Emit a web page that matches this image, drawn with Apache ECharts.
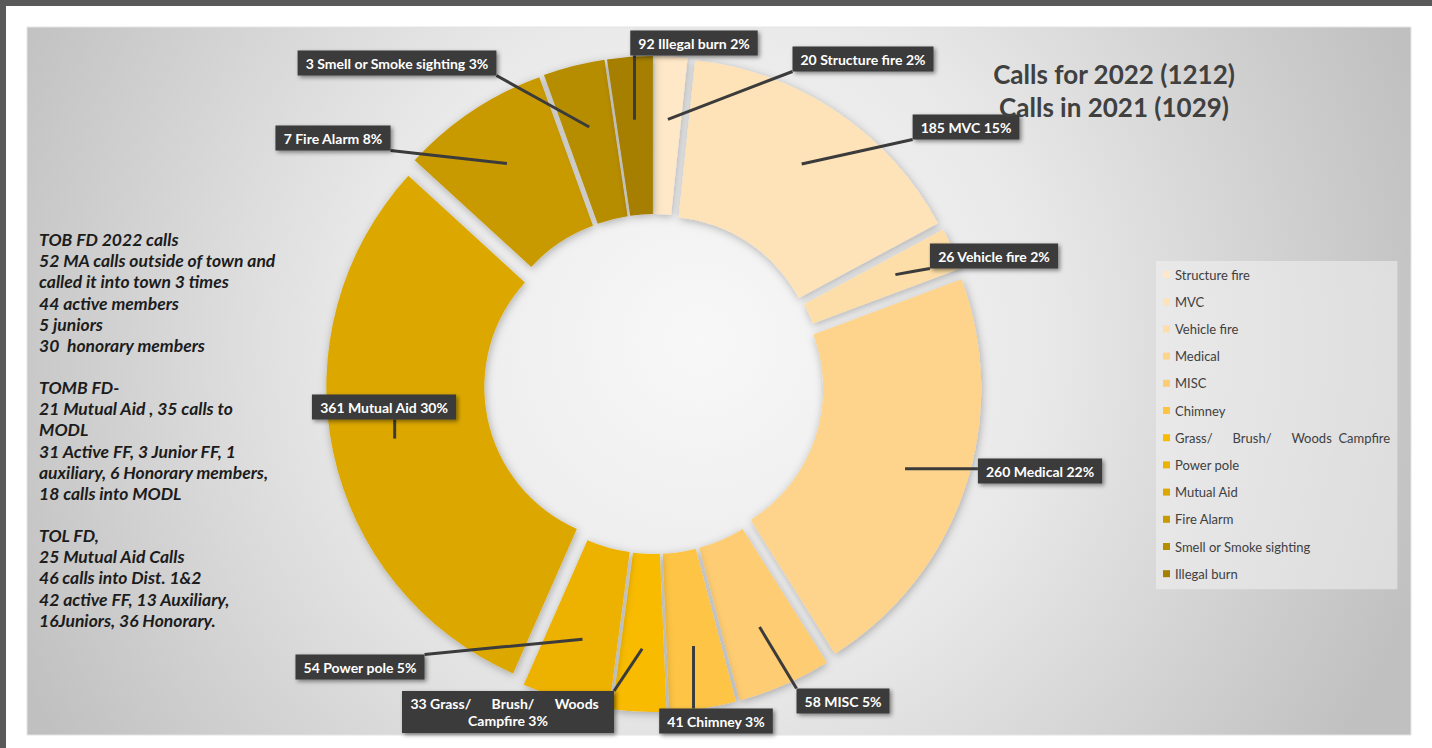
<!DOCTYPE html>
<html>
<head>
<meta charset="utf-8">
<script src="https://cdn.jsdelivr.net/npm/echarts@6/dist/echarts.min.js"></script>
<style>
html,body{margin:0;padding:0;background:#fff;}
#chart{width:1432px;height:748px;}
</style>
</head>
<body>
<div id="chart"></div>
<script>
// ---------- data ----------
const categories = [
  'Structure fire', 'MVC', 'Vehicle fire', 'Medical', 'MISC', 'Chimney',
  'Grass/      Brush/      Woods  Campfire', 'Power pole', 'Mutual Aid',
  'Fire Alarm', 'Smell or Smoke sighting', 'Illegal burn'
];
// slice sizes (as drawn)
const sliceValues = [20, 185, 26, 260, 58, 41, 33, 54, 361, 92, 38, 28];
// counts printed in the data labels
const labelCounts = [20, 185, 26, 260, 58, 41, 33, 54, 361, 7, 3, 92];
const titleLines = ['Calls for 2022 (1212)', 'Calls in 2021 (1029)'];
const noteLines = [
  'TOB FD 2022 calls',
  '52 MA calls outside of town and',
  'called it into town 3 times',
  '44 active members',
  '5 juniors',
  '30  honorary members',
  '',
  'TOMB FD-',
  '21 Mutual Aid , 35 calls to',
  'MODL',
  '31 Active FF, 3 Junior FF, 1',
  'auxiliary, 6 Honorary members,',
  '18 calls into MODL',
  '',
  'TOL FD,',
  '25 Mutual Aid Calls',
  '46 calls into Dist. 1&2',
  '42 active FF, 13 Auxiliary,',
  '16Juniors, 36 Honorary.'
];

// ---------- styles / layout ----------
const sliceColors = [
  '#FEE8C8', '#FEE3B8', '#FEDEA8', '#FED48C', '#FECC72', '#FDC444',
  '#F8BB00', '#EDB100', '#DCA800', '#C99A00', '#B78D00', '#A67F00'
];
const CX = 654, CY = 384, R_IN = 155, R_OUT = 313, EXPLODE = 15, TIP_R = 250;
const labelBoxCenters = [
  [863, 59], [966, 127], [994, 256], [1040, 471], [843, 701], [716, 721],
  [508, 712], [360, 667], [384, 407], [333, 138], [397, 63], [694, 43]
];
const labelWrapWidth = { 6: 200 };

const total = sliceValues.reduce((a, b) => a + b, 0);
const midAngles = [];
let acc = 0;
sliceValues.forEach(v => { midAngles.push((acc + v / 2) / total * 2 * Math.PI); acc += v; });

const HIDDEN = { color: 'rgba(0,0,0,0)', shadowBlur: 0, shadowColor: 'rgba(0,0,0,0)' };

const series = [];
// exploded slices (one series per slice, shifted along its mid angle)
categories.forEach((_, i) => {
  const dx = Math.sin(midAngles[i]), dy = -Math.cos(midAngles[i]);
  series.push({
    type: 'pie', z: 2,
    name: categories[i],
    center: [CX + EXPLODE * dx, CY + EXPLODE * dy],
    radius: [R_IN, R_OUT],
    startAngle: 90, clockwise: true, avoidLabelOverlap: false, silent: true,
    label: { show: false }, labelLine: { show: false },
    itemStyle: { shadowBlur: 8, shadowColor: 'rgba(0,0,0,0.28)', shadowOffsetX: 1, shadowOffsetY: 2 },
    data: categories.map((name, j) => j === i
      ? { name, value: sliceValues[j], itemStyle: { color: sliceColors[j] } }
      : { name, value: sliceValues[j], itemStyle: HIDDEN })
  });
});
// callout labels, drawn above every slice
categories.forEach((_, i) => {
  const dx = Math.sin(midAngles[i]), dy = -Math.cos(midAngles[i]);
  const ownLabel = labelWrapWidth[i]
    ? { width: labelWrapWidth[i], overflow: 'break', align: 'center', padding: [4, 6] }
    : {};
  series.push({
    type: 'pie', z: 4,
    name: categories[i] + ' label',
    center: [CX + EXPLODE * dx, CY + EXPLODE * dy],
    radius: [R_IN, R_OUT],
    startAngle: 90, clockwise: true, avoidLabelOverlap: false, silent: true,
    itemStyle: HIDDEN,
    data: categories.map((name, j) => j === i
      ? { name, value: sliceValues[j], label: ownLabel }
      : { name, value: sliceValues[j], label: { show: false }, labelLine: { show: false } }),
    label: {
      show: true,
      formatter: p => labelCounts[p.dataIndex] + ' ' + p.name + ' ' + Math.round(p.percent) + '%',
      color: '#ffffff', fontFamily: 'Lato', fontWeight: 'bold', fontSize: 14, lineHeight: 17,
      backgroundColor: '#3b3b3b', padding: [4, 8],
      shadowBlur: 4, shadowColor: 'rgba(0,0,0,0.45)', shadowOffsetX: 2, shadowOffsetY: 2
    },
    labelLine: { show: true, lineStyle: { color: '#3b3b3b', width: 3 } },
    labelLayout: p => {
      if (p.dataIndex !== i) return {};
      const bx = labelBoxCenters[i][0], by = labelBoxCenters[i][1];
      const w = p.labelRect.width, h = p.labelRect.height;
      const tip = [CX + (EXPLODE + TIP_R) * dx, CY + (EXPLODE + TIP_R) * dy];
      const ex = Math.min(Math.max(tip[0], bx - w / 2), bx + w / 2);
      const ey = Math.min(Math.max(tip[1], by - h / 2), by + h / 2);
      return {
        x: bx, y: by, align: 'center', verticalAlign: 'middle',
        labelLinePoints: [tip, [(tip[0] + ex) / 2, (tip[1] + ey) / 2], [ex, ey]]
      };
    }
  });
});

const chart = echarts.init(document.getElementById('chart'), null, { renderer: 'svg' });
chart.setOption({
  backgroundColor: '#ffffff',
  animation: false,
  graphic: [
    { type: 'rect', z: -10, silent: true, shape: { x: 27, y: 27, width: 1384, height: 708 },
      style: { fill: new echarts.graphic.RadialGradient(700, 340, 760, [
        { offset: 0, color: '#f8f8f8' }, { offset: 0.45, color: '#e9e9e9' }, { offset: 1, color: '#c0c0c0' }
      ], true), stroke: '#e4e4e4', lineWidth: 1 } },
    { type: 'rect', z: -9, silent: true, shape: { x: 0, y: 0, width: 1432, height: 6 }, style: { fill: '#595959' } },
    { type: 'rect', z: -9, silent: true, shape: { x: 0, y: 0, width: 6, height: 748 }, style: { fill: '#595959' } },
    { type: 'text', z: 5, x: 1114, y: 57, silent: true,
      style: { text: titleLines.join('\n'), fill: '#404040', font: 'bold 26px Lato',
               textAlign: 'center', textVerticalAlign: 'top', lineHeight: 33 } },
    { type: 'text', z: 5, x: 39, y: 229, silent: true,
      style: { text: noteLines.join('\n'), fill: '#1c1c1c', font: 'italic bold 17.5px Lato',
               textAlign: 'left', textVerticalAlign: 'top', lineHeight: 21.15 } }
  ],
  legend: {
    orient: 'vertical', left: 1156, top: 261,
    itemWidth: 7, itemHeight: 7, itemGap: 14.2, icon: 'rect',
    padding: [7, 7, 9, 7],
    backgroundColor: 'rgba(242,242,242,0.55)',
    textStyle: { fontFamily: 'Lato', fontSize: 13, color: '#404040' },
    data: categories.map((n, i) => ({ name: n, itemStyle: { color: sliceColors[i], shadowBlur: 0, shadowColor: 'rgba(0,0,0,0)' } }))
  },
  series: series
});
</script>
</body>
</html>
